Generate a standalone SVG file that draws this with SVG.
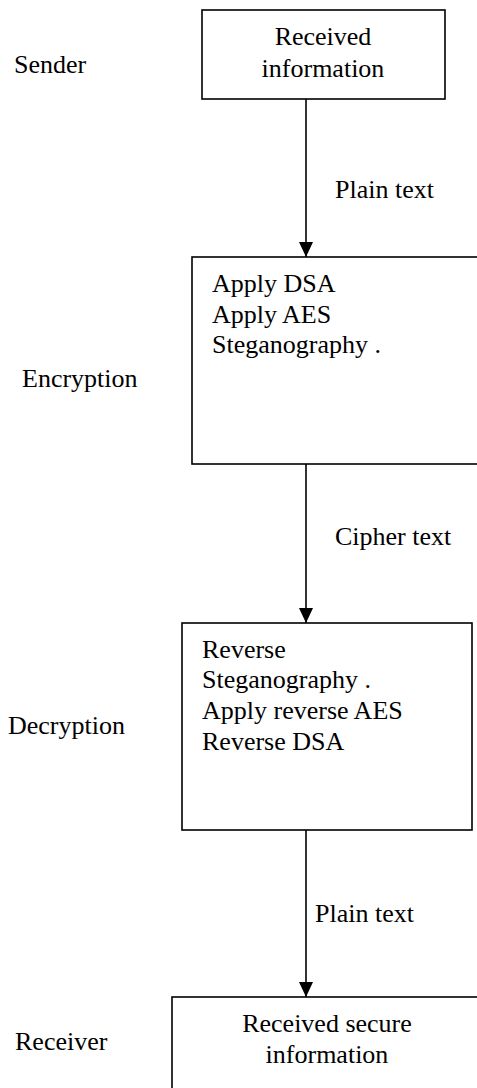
<svg xmlns="http://www.w3.org/2000/svg" width="477" height="1088" viewBox="0 0 477 1088">
<style>
  .box { fill: #fff; stroke: #000; stroke-width: 1.6; }
  .conn { stroke: #000; stroke-width: 1.6; fill: none; }
</style>
<defs>
  <marker id="arr" markerWidth="15" markerHeight="14" refX="15" refY="7" orient="auto" markerUnits="userSpaceOnUse">
    <path d="M0,0 L15,7 L0,14 z" fill="#000"/>
  </marker>
</defs>
<rect width="477" height="1088" fill="#fff"/>
<g id="labels">
  <text x="14" y="73" font-family="Liberation Serif" font-size="26">Sender</text>
  <text x="22" y="387" font-family="Liberation Serif" font-size="26">Encryption</text>
  <text x="8" y="734" font-family="Liberation Serif" font-size="26">Decryption</text>
  <text x="15" y="1050" font-family="Liberation Serif" font-size="26">Receiver</text>
</g>
<g id="connectors">
  <line class="conn" x1="306" y1="99" x2="306" y2="257" marker-end="url(#arr)"/>
  <line class="conn" x1="306" y1="464" x2="306" y2="623" marker-end="url(#arr)"/>
  <line class="conn" x1="306" y1="830" x2="306" y2="997" marker-end="url(#arr)"/>
  <text x="335" y="198" font-family="Liberation Serif" font-size="26">Plain text</text>
  <text x="335" y="545" font-family="Liberation Serif" font-size="26">Cipher text</text>
  <text x="315" y="922" font-family="Liberation Serif" font-size="26">Plain text</text>
</g>
<g id="node-received">
  <rect class="box" x="202" y="10" width="243" height="89"/>
  <text x="323" y="45" text-anchor="middle" font-family="Liberation Serif" font-size="26">Received</text>
  <text x="323" y="77" text-anchor="middle" font-family="Liberation Serif" font-size="26">information</text>
</g>
<g id="node-encryption">
  <rect class="box" x="192" y="257" width="300" height="207"/>
  <text x="212" y="292" font-family="Liberation Serif" font-size="26">Apply DSA</text>
  <text x="212" y="323" font-family="Liberation Serif" font-size="26">Apply AES</text>
  <text x="212" y="353" font-family="Liberation Serif" font-size="26">Steganography .</text>
</g>
<g id="node-decryption">
  <rect class="box" x="182" y="623" width="290" height="207"/>
  <text x="202" y="658" font-family="Liberation Serif" font-size="26">Reverse</text>
  <text x="202" y="688" font-family="Liberation Serif" font-size="26">Steganography .</text>
  <text x="202" y="719" font-family="Liberation Serif" font-size="26">Apply reverse AES</text>
  <text x="202" y="750" font-family="Liberation Serif" font-size="26">Reverse DSA</text>
</g>
<g id="node-receiver">
  <rect class="box" x="172" y="997" width="320" height="110"/>
  <text x="327" y="1032" text-anchor="middle" font-family="Liberation Serif" font-size="26">Received secure</text>
  <text x="327" y="1063" text-anchor="middle" font-family="Liberation Serif" font-size="26">information</text>
</g>
</svg>
